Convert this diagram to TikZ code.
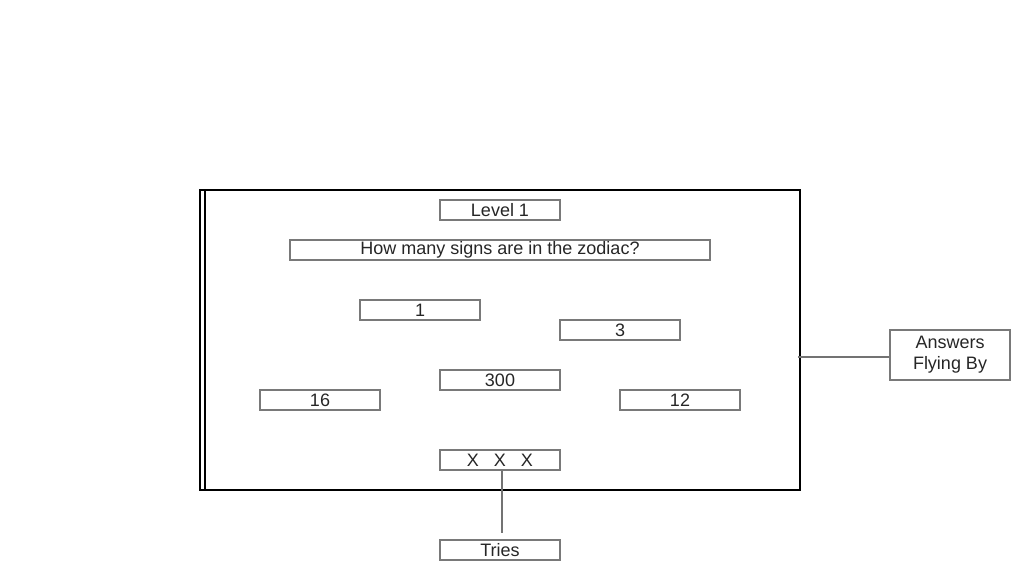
\documentclass[tikz,border=0pt]{standalone}
\usepackage{fontspec}
\setmainfont{Liberation Sans}
\begin{document}
\begin{tikzpicture}[x=1pt,y=-1pt,
  box/.style={draw=gray!95!black, line width=1.6pt, minimum width=120pt, minimum height=20pt, inner sep=0pt, font=\fontsize{18}{20}\selectfont, text=black!85},
  conn/.style={draw=gray!90!black, line width=1.4pt},
  frame/.style={draw=black, line width=1.8pt}]
\useasboundingbox (0,0) rectangle (1030,580);
\draw[frame] (200,190) rectangle (800,490);
\draw[frame] (205,190) -- (205,490);
\node[box] (lvl) at (500,210) {Level 1};
\node[box, minimum width=420pt] (q) at (500,250) {How many signs are in the zodiac?};
\node[box] (a1) at (420,310) {1};
\node[box] (a3) at (620,330) {3};
\node[box] (a300) at (500,380) {300};
\node[box] (a16) at (320,400) {16};
\node[box] (a12) at (680,400) {12};
\node[box] (xxx) at (500,460) {X\hspace{15pt}X\hspace{15pt}X};
\node[box] (tries) at (500,550) {Tries};
\node[box, minimum height=50pt, align=center, font=\fontsize{18}{21}\selectfont] (afb) at (950,355) {Answers\\Flying By};
\coordinate (tend) at (502,533);
\coordinate (astart) at (798,357);
\draw[conn] (xxx.south -| tend) -- (tend);
\draw[conn] (astart) -- (afb.west |- astart);
\end{tikzpicture}
\end{document}
